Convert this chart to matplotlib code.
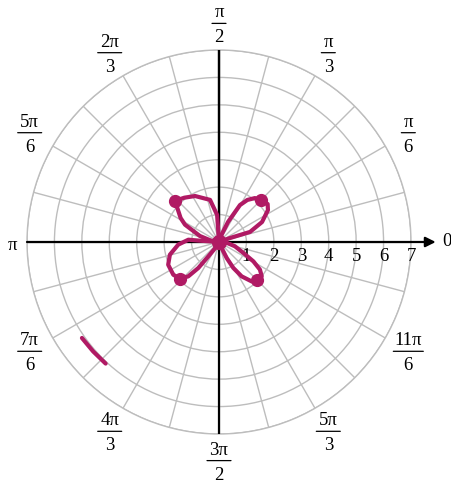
import numpy as np
import matplotlib.pyplot as plt
from matplotlib.transforms import offset_copy

plt.rcParams['font.family'] = ['Liberation Serif', 'DejaVu Serif']

# sketched rose petals (angle in degrees, r)
q1_ang = [20, 20, 18, 24.9, 33.1, 38, 45, 50.7, 56, 60.4, 65.8, 70, 70]
q1_r = [0, 0.4, 1.19, 1.73, 2.13, 2.25, 2.15, 2.07, 1.85, 1.55, 0.8, 0.3, 0]
q2_ang = [90, 94, 102, 117.5, 128, 137, 141, 148, 153, 162.5, 170, 175]
q2_r = [0, 0.99, 1.57, 1.89, 2.05, 2.2, 1.95, 1.65, 1.39, 0.73, 0.3, 0]
q3_ang = [178, 176, 175.7, 183.7, 194.5, 204.1, 215.6, 223.2, 228.2, 231.5, 233.4, 241.7, 245]
q3_r = [0, 0.76, 1.12, 1.49, 1.85, 2.03, 2.05, 1.95, 1.68, 1.21, 0.65, 0.18, 0]
q4_ang = [290, 293.9, 295.6, 298.9, 303.4, 309.7, 315, 321.2, 326, 330.6, 335.7, 345, 360, 360]
q4_r = [0, 0.24, 0.65, 1.08, 1.5, 1.87, 1.94, 2.0, 1.8, 1.44, 0.98, 0.6, 0.22, 0]

dot_ang = [45, 137, 223.2, 315]
dot_r = [2.14, 2.2, 1.95, 1.94]

# stray stroke near 7pi/6 .. 4pi/3
stroke_ang = [215, 221, 227]
stroke_r = [6.1, 6.08, 6.06]

num_labels = ['π', 'π', 'π', '2π', '5π', '7π', '4π', '3π', '5π', '11π']
den_labels = ['6', '3', '2', '3', '6', '6', '3', '2', '3', '6']
frac_ang = [30, 60, 90, 120, 150, 210, 240, 270, 300, 330]
r_ticks = [1, 2, 3, 4, 5, 6, 7]

color = '#b01a64'
grid_c = '#bdbdbd'
fs = 13.5

fig = plt.figure(figsize=(4.52, 4.84), dpi=100)
ax = fig.add_axes([27 / 452, 50 / 484, 384 / 452, 384 / 484], projection='polar')
ax.set_ylim(0, 7)
ax.set_thetagrids(np.arange(0, 360, 15), [''] * 24)
ax.set_rgrids(r_ticks, [''] * 7)
ax.grid(color=grid_c, lw=1)
ax.spines['polar'].set_color(grid_c)
ax.spines['polar'].set_linewidth(1)

# axes lines
ax.plot([np.pi / 2, 3 * np.pi / 2], [7, 7], color='black', lw=1.6, zorder=3)
ax.plot([np.pi / 2, 0], [7, 0], color='black', lw=1.6, zorder=3)
ax.annotate('', xy=(0, 7.9), xytext=(np.pi, 7), annotation_clip=False,
            arrowprops=dict(arrowstyle='-|>', color='black', lw=1.6,
                            mutation_scale=15, shrinkA=0, shrinkB=0), zorder=3)

for angs, rs in [(q1_ang, q1_r), (q2_ang, q2_r), (q3_ang, q3_r), (q4_ang, q4_r)]:
    ax.plot(np.radians(angs), rs, color=color, lw=3.0, zorder=4,
            solid_capstyle='round', solid_joinstyle='round')
ax.plot(np.radians(dot_ang), dot_r, 'o', color=color, ms=8.5, zorder=5)
ax.plot([0], [0], 'o', color=color, ms=10, zorder=5)
ax.plot(np.radians(stroke_ang), stroke_r, color=color, lw=3.0, zorder=4,
        solid_capstyle='round')

# fraction labels around the circle
rb = 7.97
for a, n, d in zip(frac_ang, num_labels, den_labels):
    th = np.radians(a)
    ax.text(th, rb, n, transform=offset_copy(ax.transData, fig=fig, y=6, units='dots'),
            ha='center', va='baseline', fontsize=fs)
    ax.text(th, rb, d, transform=offset_copy(ax.transData, fig=fig, y=-19, units='dots'),
            ha='center', va='baseline', fontsize=fs)
    w = {1: 14, 2: 24, 3: 30}[len(n)]
    ax.annotate('', xy=(th, rb), xycoords=offset_copy(ax.transData, fig=fig, x=w / 2, units='dots'),
                xytext=(th, rb), textcoords=offset_copy(ax.transData, fig=fig, x=-w / 2, units='dots'),
                annotation_clip=False,
                arrowprops=dict(arrowstyle='-', color='black', lw=0.9, shrinkA=0, shrinkB=0))

ax.text(np.pi, 7.52, 'π', transform=offset_copy(ax.transData, fig=fig, y=-8, units='dots'),
        ha='center', va='baseline', fontsize=fs)
ax.text(0, 8.32, '0', ha='center', va='center', fontsize=fs)

# radial labels below the horizontal axis
tr = offset_copy(ax.transData, fig=fig, y=-19, units='dots')
for k in r_ticks:
    ax.text(0, k, str(k), transform=tr, ha='center', va='baseline', fontsize=fs)

fig.savefig('out.png', dpi=100)
